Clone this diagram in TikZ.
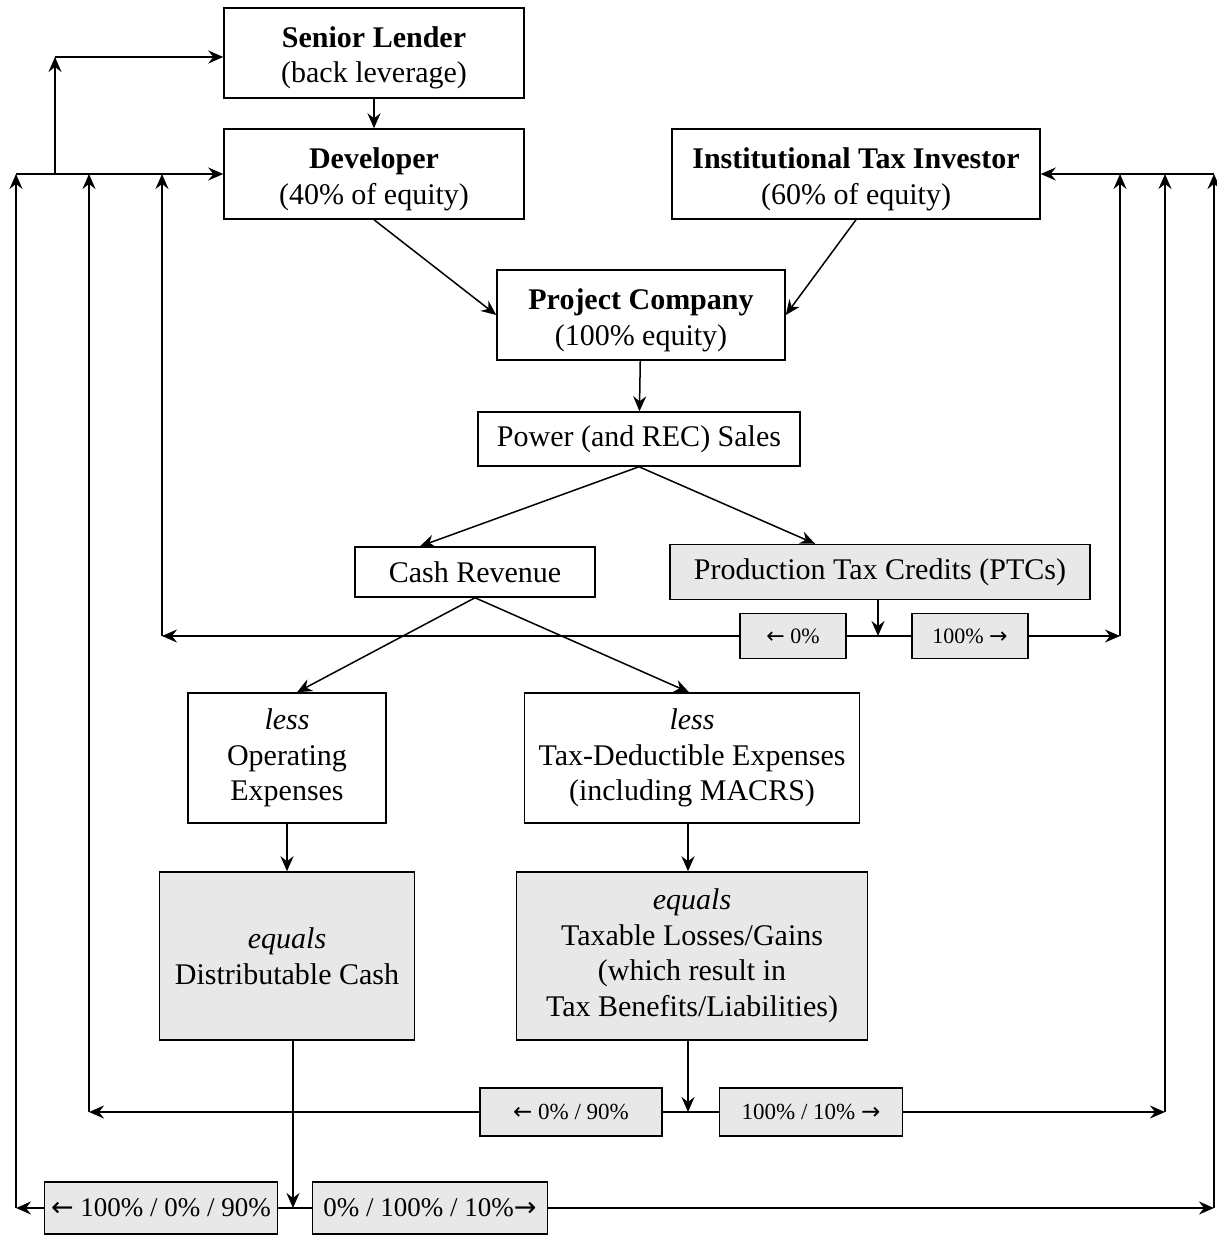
\documentclass[tikz,border=0pt]{standalone}
\usepackage{fontspec}
\setmainfont{Liberation Serif}
\newfontfamily\arrowfont{DejaVu Sans}
\usepackage{xcolor}
\usetikzlibrary{arrows.meta,positioning,calc}
\definecolor{shareGrey}{RGB}{232,232,232}
\newcommand{\toL}{{\arrowfont\char"2190}}
\newcommand{\toR}{{\arrowfont\char"2192}}

\begin{document}
\begin{tikzpicture}[x=1pt, y=-1pt, line width=1.5pt,
    >={Stealth[length=15pt,width=13pt,inset=5pt]},
    party/.style={draw, fill=white, align=center, inner sep=0pt,
        font=\fontsize{30}{35.5}\selectfont},
    owner/.style={party, text height=64pt, text depth=4pt},
    result/.style={party, fill=shareGrey},
    share/.style={draw, fill=shareGrey, inner sep=0pt,
        font=\fontsize{22}{26}\selectfont}]
    \useasboundingbox (0,0) rectangle (1217,1236);

    % owners and lender
    \node[owner, minimum width=300, minimum height=90] (lender) at (374,53) {\textbf{Senior Lender}\\(back leverage)};
    \node[owner, minimum width=300, minimum height=90] (dev) at (374,174) {\textbf{Developer}\\(40\% of equity)};
    \node[owner, minimum width=368, minimum height=90] (inv) at (856,174) {\textbf{Institutional Tax Investor}\\(60\% of equity)};
    \node[owner, minimum width=288, minimum height=90] (proj) at (641,315) {\textbf{Project Company}\\(100\% equity)};

    % revenue streams
    \node[party, minimum width=322, minimum height=54] (power) at (639,439) {Power (and REC) Sales};
    \node[party, minimum width=240, minimum height=50] (cash) at (475,572) {Cash Revenue};
    \node[result, minimum width=420, minimum height=55] (ptc) at (880,572) {Production Tax Credits (PTCs)};
    \node[share, minimum width=106, minimum height=45] (ptcL) at (793,636) {\toL\ 0\%};
    \node[share, minimum width=116, minimum height=45] (ptcR) at (970,636) {100\% \toR};

    \node[party, minimum width=198, minimum height=130] (opex) at (287,758) {\textit{less}\\Operating\\Expenses};
    \node[party, minimum width=335, minimum height=130] (tax) at (692,758) {\textit{less}\\Tax-Deductible Expenses\\(including MACRS)};
    \node[result, minimum width=255, minimum height=168] (dist) at (287,956) {\textit{equals}\\Distributable Cash};
    \node[result, minimum width=351, minimum height=168] (gain) at (692,956) {\textit{equals}\\Taxable Losses/Gains\\(which result in\\Tax Benefits/Liabilities)};

    % splits
    \node[share, font=\fontsize{23}{27}\selectfont, minimum width=182, minimum height=48] (taxL) at (571,1112) {\toL\ 0\% / 90\%};
    \node[share, font=\fontsize{23}{27}\selectfont, minimum width=183, minimum height=48] (taxR) at (811,1112) {100\% / 10\% \toR};
    \node[share, font=\fontsize{27}{32}\selectfont, minimum width=233, minimum height=52] (cashL) at (161,1208) {\toL\ 100\% / 0\% / 90\%};
    \node[share, font=\fontsize{27}{32}\selectfont, minimum width=235, minimum height=52] (cashR) at (430,1208) {0\% / 100\% / 10\%\toR};

    \coordinate (ptcJ) at (878,636);
    \coordinate (taxJ) at (688,1112);
    \coordinate (cashJ) at (293,1208);
    \coordinate (feedA) at (16,1208);
    \coordinate (feedB) at (89,1112);
    \coordinate (feedC) at (162,636);
    \coordinate (backA) at (1120,636);
    \coordinate (backB) at (1165,1112);
    \coordinate (backC) at (1214,1208);
    \coordinate (lev) at (55,174);

    % main flow
    \draw[->] (lender) -- (dev);
    \draw[->] (dev.south) -- (proj.west);
    \draw[->] (inv.south) -- (proj.east);
    \draw[->] (proj) -- (power);
    \draw[->] (power.south) -- ([xshift=-55]cash.north);
    \draw[->] (power.south) -- ([xshift=-65]ptc.north);
    \draw[->] (cash.south) -- ([xshift=10]opex.north);
    \draw[->] (cash.south) -- ([xshift=-3]tax.north);
    \draw[->] (opex) -- (dist);
    \draw[->] (tax.south -| taxJ) -- (gain.north -| taxJ);

    % PTC split
    \draw[->] (ptc.south -| ptcJ) -- (ptcJ);
    \draw (ptcL.east) -- (ptcR.west);
    \draw[->] (ptcL.west) -- (feedC);
    \draw[->] (ptcR.east) -- (backA);

    % tax split
    \draw[->] (gain.south -| taxJ) -- (taxJ);
    \draw (taxL.east) -- (taxR.west);
    \draw[->] (taxL.west) -- (feedB);
    \draw[->] (taxR.east) -- (backB);

    % cash split
    \draw[->] (dist.south -| cashJ) -- (cashJ);
    \draw (cashL.east) -- (cashR.west);
    \draw[->] (cashL.west) -- (feedA);
    \draw[->] (cashR.east) -- (backC);

    % back up to the owners
    \draw[->] (feedA) -- (feedA |- dev.west);
    \draw[->] (feedB) -- (feedB |- dev.west);
    \draw[->] (feedC) -- (feedC |- dev.west);
    \draw[->] (feedA |- dev.west) -- (dev.west);
    \draw[->] (backA) -- (backA |- inv.east);
    \draw[->] (backB) -- (backB |- inv.east);
    \draw[->] (backC) -- (backC |- inv.east);
    \draw[->] (backC |- inv.east) -- (inv.east);
    \draw[->] (lev) -- (lev |- 0,57);
    \draw[->] (lev |- 0,57) -- (lender.west |- 0,57);
\end{tikzpicture}
\end{document}
